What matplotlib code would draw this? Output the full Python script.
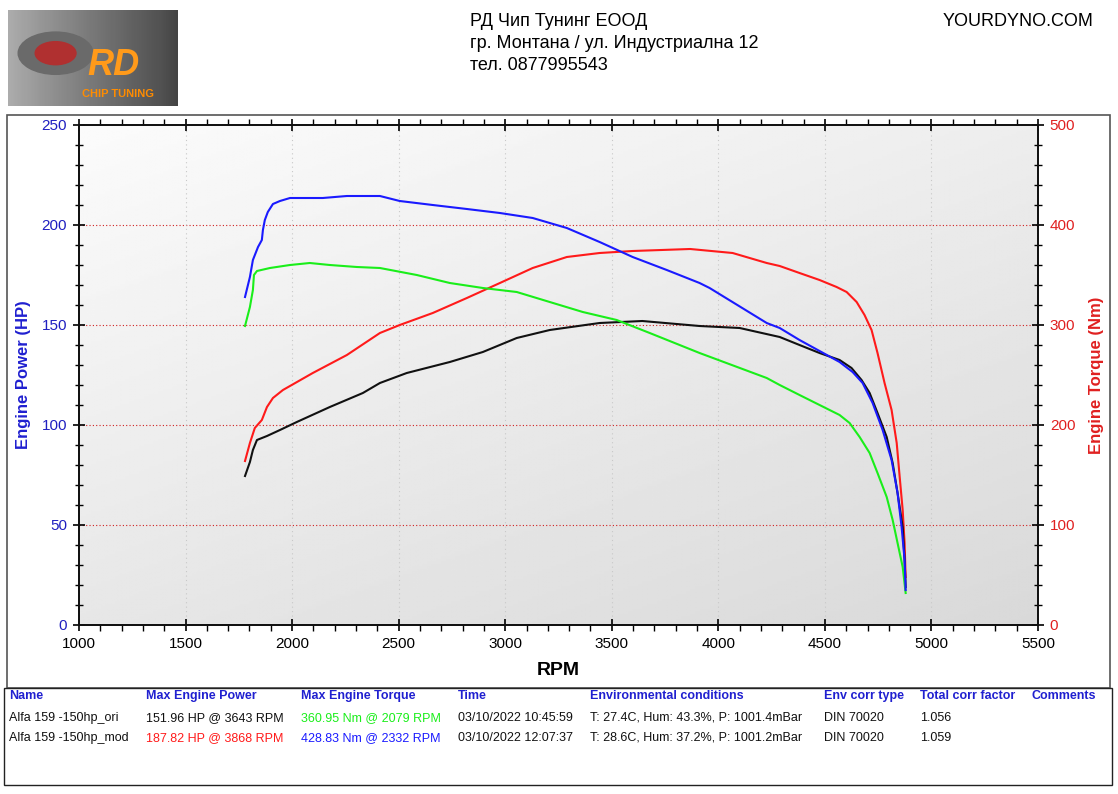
import matplotlib.pyplot as plt
import numpy as np
from matplotlib.patches import Rectangle, Circle
from matplotlib.ticker import MultipleLocator

# mod torque (Nm) - blue
rpm_mod_tq = [1779, 1802, 1816, 1840, 1858, 1863, 1872, 1886, 1910, 1943, 1990, 2144, 2257,
              2412, 2505, 2660, 2820, 2975, 3129, 3289, 3443, 3598, 3758, 3912, 3959, 4227,
              4288, 4381, 4475, 4569, 4630, 4677, 4724, 4771, 4813, 4841, 4860, 4874, 4879]
mod_tq = [328, 348, 365, 378, 385, 395, 405, 413, 421, 424, 427, 427, 429,
          429, 424, 420, 416, 412, 407, 397, 383, 368, 355, 342, 337, 302,
          297, 285, 274, 263, 253, 242, 222, 195, 165, 132, 98, 65, 35]

# ori torque (Nm) - green
rpm_ori_tq = [1779, 1802, 1816, 1821, 1835, 1896, 1990, 2083, 2177, 2304, 2412, 2585, 2740,
              2895, 3054, 3209, 3364, 3523, 3678, 3912, 4227, 4288, 4381, 4475, 4569, 4616,
              4663, 4710, 4747, 4790, 4818, 4841, 4865, 4879]
ori_tq = [299, 318, 335, 350, 354, 357, 360, 362, 360, 358, 357, 350, 342,
          337, 333, 323, 313, 305, 292, 272, 247, 240, 230, 220, 210, 202,
          188, 172, 152, 128, 105, 82, 58, 32]

# mod power (HP) - red
rpm_mod_hp = [1779, 1802, 1825, 1858, 1882, 1910, 1957, 2097, 2257, 2412, 2505, 2660, 2820,
              2975, 3129, 3289, 3443, 3598, 3868, 4067, 4227, 4288, 4381, 4475, 4555, 4602,
              4649, 4686, 4719, 4747, 4780, 4813, 4837, 4851, 4865, 4874, 4879]
mod_hp = [82, 91, 98.5, 102.5, 109, 113.5, 117.5, 126, 135, 146, 150, 156, 163.5,
          171, 178.5, 184, 186, 187, 188, 186, 181, 179.5, 176, 172.5, 169, 166.5,
          161.5, 155, 147.5, 136, 121, 107.5, 91, 74, 57.5, 41, 24]

# ori power (HP) - black
rpm_ori_hp = [1779, 1802, 1816, 1835, 1882, 1943, 2022, 2177, 2332, 2412, 2538, 2740, 2895,
              3054, 3209, 3443, 3643, 3912, 4100, 4288, 4381, 4475, 4569, 4625, 4672, 4710,
              4747, 4790, 4818, 4841, 4865, 4874, 4879]
ori_hp = [74.5, 81.5, 87.5, 92.5, 94.5, 97.5, 101.5, 109, 116, 121, 126, 131.5, 136.5,
          143.5, 147.5, 151, 152, 149.5, 148.5, 144, 140, 136, 132.5, 128.5, 122.5, 116,
          106, 94, 81, 66, 49, 32.5, 19]

col_heads = ['Name', 'Max Engine Power', 'Max Engine Torque', 'Time',
             'Environmental conditions', 'Env corr type', 'Total corr factor', 'Comments']
row_ori = ['Alfa 159 -150hp_ori', '151.96 HP @ 3643 RPM', '360.95 Nm @ 2079 RPM',
           '03/10/2022 10:45:59', 'T: 27.4C, Hum: 43.3%, P: 1001.4mBar', 'DIN 70020', '1.056', '']
row_mod = ['Alfa 159 -150hp_mod', '187.82 HP @ 3868 RPM', '428.83 Nm @ 2332 RPM',
           '03/10/2022 12:07:37', 'T: 28.6C, Hum: 37.2%, P: 1001.2mBar', 'DIN 70020', '1.059', '']

BLUE = '#1a1aff'
RED = '#ff1a1a'
GREEN = '#1aee1a'
FONT = ['Liberation Sans', 'DejaVu Sans']
plt.rcParams['font.family'] = FONT

W, H = 1118, 794
fig = plt.figure(figsize=(W / 100, H / 100), dpi=100)


def fx(px):
    return px / W


def fy(py):
    return 1 - py / H


# outer frames
fig.patches.append(Rectangle((fx(7), fy(688)), fx(1103), 573 / H, transform=fig.transFigure,
                             fill=False, ec='#555555', lw=1.2))
fig.patches.append(Rectangle((fx(4), fy(785)), fx(1108), 97 / H, transform=fig.transFigure,
                             fill=False, ec='#222222', lw=1.0))

# header
fig.text(fx(470), fy(22), 'РД Чип Тунинг ЕООД', fontsize=13, va='center')
fig.text(fx(470), fy(43), 'гр. Монтана / ул. Индустриална 12', fontsize=13, va='center')
fig.text(fx(470), fy(65), 'тел. 0877995543', fontsize=13, va='center')
fig.text(fx(1094), fy(22), 'YOURDYNO.COM', fontsize=13, va='center', ha='right')

# logo placeholder
lax = fig.add_axes([fx(8), fy(106), fx(170), 96 / H])
grad = np.linspace(0, 1, 100)[None, :] * np.ones((60, 1))
lax.imshow(grad, cmap='Greys', vmin=-1.2, vmax=1.6, extent=[0, 1, 0, 1], aspect='auto')
lax.add_patch(Circle((0.28, 0.55), 0.22, color='#6a6a6a', transform=lax.transAxes))
lax.add_patch(Circle((0.28, 0.55), 0.12, color='#b03030', transform=lax.transAxes))
lax.text(0.62, 0.42, 'RD', color='#ff9a1a', fontsize=26, fontweight='bold', style='italic',
         ha='center', va='center')
lax.text(0.65, 0.12, 'CHIP TUNING', color='#ff8c00', fontsize=8, fontweight='bold',
         ha='center', va='center')
lax.set_xlim(0, 1)
lax.set_ylim(0, 1)
lax.axis('off')

# main axes
ax = fig.add_axes([fx(79), fy(625), fx(1038 - 79), 500 / H])
bx, by = np.meshgrid(np.linspace(0, 1, 200), np.linspace(0, 1, 200))
shade = 0.985 - 0.055 * bx - 0.08 * by
ax.imshow(shade, cmap='gray', vmin=0, vmax=1, extent=[0, 1, 0, 1], origin='upper',
          transform=ax.transAxes, aspect='auto', zorder=0)

ax.set_xlim(1000, 5500)
ax.set_ylim(0, 250)
ax.xaxis.set_major_locator(MultipleLocator(500))
ax.xaxis.set_minor_locator(MultipleLocator(100))
ax.yaxis.set_major_locator(MultipleLocator(50))
ax.yaxis.set_minor_locator(MultipleLocator(10))
ax.tick_params(axis='x', which='major', direction='inout', length=9, width=1.2, top=True,
               labelsize=11, pad=4)
ax.tick_params(axis='x', which='minor', direction='out', length=4, width=1, top=True)
ax.tick_params(axis='y', which='major', direction='inout', length=9, width=1.2,
               labelsize=11, labelcolor='#2020c0', pad=4)
ax.tick_params(axis='y', which='minor', direction='inout', length=6, width=1)
for s in ax.spines.values():
    s.set_linewidth(1.3)
    s.set_color('#111111')

for v in [50, 100, 150, 200]:
    ax.axhline(v, color='#d02020', ls=(0, (1, 2)), lw=0.8, zorder=1)
for v in range(1500, 5500, 500):
    ax.axvline(v, color='#c8c8c8', ls=(0, (1, 3)), lw=0.8, zorder=1)

ax.plot(rpm_mod_hp, mod_hp, color=RED, lw=1.5, zorder=3)
ax.plot(rpm_ori_hp, ori_hp, color='#111111', lw=1.5, zorder=3)

ax.set_xlabel('RPM', fontsize=14, fontweight='bold', labelpad=8)
ax.set_ylabel('Engine Power (HP)', fontsize=12, fontweight='bold', color='#2020d0', labelpad=8)

ax2 = ax.twinx()
ax2.set_ylim(0, 500)
ax2.yaxis.set_major_locator(MultipleLocator(100))
ax2.yaxis.set_minor_locator(MultipleLocator(20))
ax2.tick_params(axis='y', which='major', direction='inout', length=9, width=1.2,
                labelsize=11, labelcolor='#e02020', pad=4)
ax2.tick_params(axis='y', which='minor', direction='inout', length=6, width=1)
for s in ax2.spines.values():
    s.set_linewidth(1.3)
    s.set_color('#111111')
ax2.plot(rpm_ori_tq, ori_tq, color=GREEN, lw=1.5, zorder=3)
ax2.plot(rpm_mod_tq, mod_tq, color=BLUE, lw=1.5, zorder=3)
ax2.set_ylabel('Engine Torque (Nm)', fontsize=12, fontweight='bold', color='#e02020', labelpad=10)

# results table
col_x = [9, 146, 301, 458, 590, 824, 920, 1032]
for x, t in zip(col_x, col_heads):
    fig.text(fx(x), fy(696), t, fontsize=9, fontweight='bold', color='#2020d0', va='center')
row_colors_ori = ['#111111', '#111111', GREEN, '#111111', '#111111', '#111111', '#111111', '#111111']
row_colors_mod = ['#111111', RED, BLUE, '#111111', '#111111', '#111111', '#111111', '#111111']
for x, t, c in zip(col_x, row_ori, row_colors_ori):
    fig.text(fx(x), fy(718), t, fontsize=9, color=c, va='center')
for x, t, c in zip(col_x, row_mod, row_colors_mod):
    fig.text(fx(x), fy(738), t, fontsize=9, color=c, va='center')

fig.savefig('out.png', dpi=100)
